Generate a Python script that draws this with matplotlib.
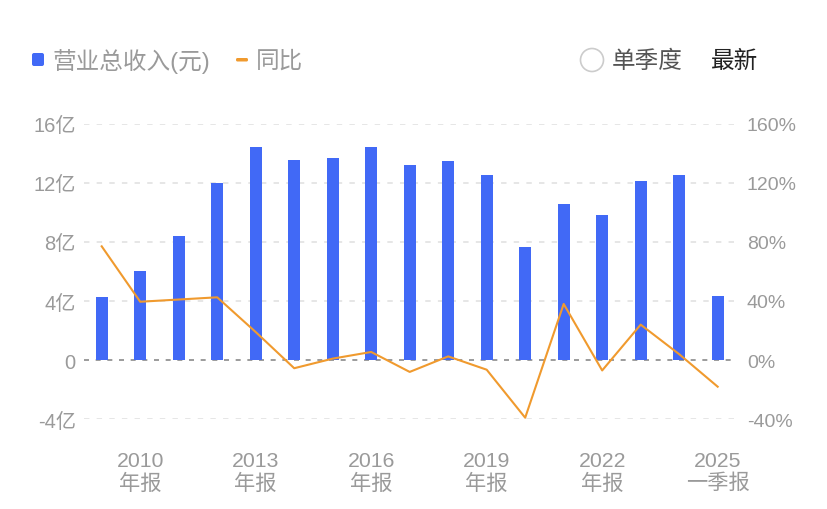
import matplotlib
matplotlib.use('Agg')
import matplotlib.pyplot as plt
from matplotlib.patches import FancyBboxPatch, Circle
import numpy as np

plt.rcParams['font.family'] = ['Liberation Sans', 'Noto Sans CJK SC', 'DejaVu Sans']

W, H = 828, 510

# revenue in 亿, yoy in %
revenue = [4.3, 6.0, 8.4, 12.0, 14.4, 13.55, 13.65, 14.4, 13.2, 13.5, 12.55, 7.65, 10.55, 9.8, 12.1, 12.55, 4.35]
yoy = [77, 39.5, 41, 42.5, 19, -5.5, 1, 5.5, -8, 2.5, -6.5, -39, 38, -7, 24, 4, -18]

x_labels = ['2010\n年报', '2013\n年报', '2016\n年报', '2019\n年报', '2022\n年报', '2025\n一季报']
x_label_pos = [1, 4, 7, 10, 13, 16]
left_ticks = [-4, 0, 4, 8, 12, 16]
left_labels = ['-4亿', '0', '4亿', '8亿', '12亿', '16亿']
right_ticks = [-40, 0, 40, 80, 120, 160]
right_labels = ['-40%', '0%', '40%', '80%', '120%', '160%']

BLUE = '#4169F6'
ORANGE = '#F09A2E'
GREY = '#9A9A9A'

fig = plt.figure(figsize=(W / 100, H / 100), dpi=100)
ax = fig.add_axes([84 / W, 1 - 420.2 / H, (735 - 84) / W, (420.2 - 124.7) / H])
x = np.arange(len(revenue))

for t in left_ticks:
    if t == 0:
        ax.axhline(t, color='#8a8a8a', lw=1.2, dashes=(3, 4), zorder=1)
    else:
        ax.axhline(t, color='#e4e4e4', lw=1.3, dashes=(3, 4), zorder=1)

ax.bar(x, revenue, width=0.31, color=BLUE, zorder=2)
ax.set_xlim(-0.46, 16.45)
ax.set_ylim(-4, 16)
ax.set_yticks(left_ticks, left_labels)
ax.set_xticks(x_label_pos, x_labels, linespacing=1.15)
ax.tick_params(axis='y', length=0, pad=6, labelsize=14.5, labelcolor=GREY)
ax.tick_params(axis='x', length=0, pad=23, labelsize=15.3, labelcolor=GREY)
for s in ax.spines.values():
    s.set_visible(False)

ax2 = ax.twinx()
ax2.plot(x, yoy, color=ORANGE, lw=1.5, zorder=3)
ax2.set_ylim(-40, 160)
ax2.set_yticks(right_ticks, right_labels)
ax2.tick_params(axis='y', length=0, pad=8.5, labelsize=14, labelcolor=GREY)
for s in ax2.spines.values():
    s.set_visible(False)

# legend row, pixel coordinates
top = fig.add_axes([0, 0, 1, 1], facecolor='none')
top.set_xlim(0, W)
top.set_ylim(H, 0)
top.axis('off')
top.add_patch(FancyBboxPatch((32, 54), 12, 13, boxstyle='round,pad=0,rounding_size=2', fc=BLUE, ec='none'))
top.add_patch(FancyBboxPatch((236, 59), 12, 3.5, boxstyle='round,pad=0,rounding_size=1.5', fc=ORANGE, ec='none'))
top.add_patch(Circle((592, 61), 11.5, fc='white', ec='#cccccc', lw=1.2))
top.text(53, 62, '营业总收入(元)', fontsize=17, color=GREY, va='center', ha='left')
top.text(256, 62, '同比', fontsize=17, color=GREY, va='center', ha='left')
top.text(612, 62, '单季度', fontsize=17, color='#555555', va='center', ha='left')
top.text(711, 62, '最新', fontsize=17, color='#222222', va='center', ha='left')

fig.savefig('out.png', dpi=100)
